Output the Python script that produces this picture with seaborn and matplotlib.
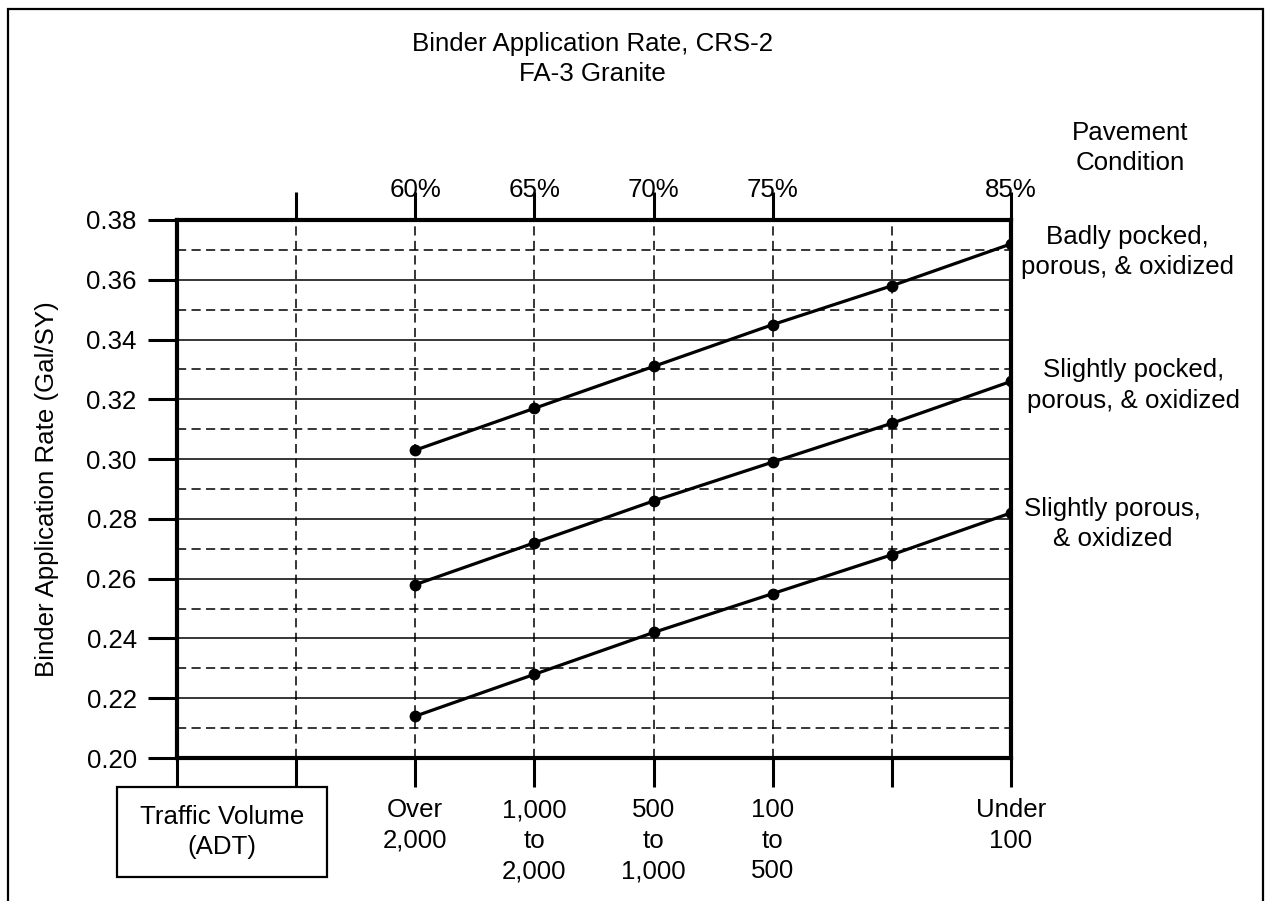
import numpy as np
import pandas as pd
import matplotlib.pyplot as plt
from matplotlib.patches import Rectangle
from matplotlib.ticker import FormatStrFormatter
import seaborn as sns

# ---------------------------------------------------------
# chart values
# ---------------------------------------------------------
column_index = [2, 3, 4, 5, 6, 7]
badly_pocked = [0.303, 0.317, 0.331, 0.345, 0.358, 0.372]
slightly_pocked = [0.258, 0.272, 0.286, 0.299, 0.312, 0.326]
slightly_porous = [0.214, 0.228, 0.242, 0.255, 0.268, 0.282]

condition_names = ['Badly pocked,\nporous, & oxidized',
                   'Slightly pocked,\nporous, & oxidized',
                   'Slightly porous,\n& oxidized']

traffic_ticks = [0, 1, 2, 3, 4, 5, 6, 7]
traffic_labels = ['', '', 'Over\n2,000', '1,000\nto\n2,000', '500\nto\n1,000',
                  '100\nto\n500', '', 'Under\n100']
pavement_ticks = [1, 2, 3, 4, 5, 7]
pavement_labels = ['', '60%', '65%', '70%', '75%', '85%']

y_major = [0.20, 0.22, 0.24, 0.26, 0.28, 0.30, 0.32, 0.34, 0.36, 0.38]
y_minor = [0.21, 0.23, 0.25, 0.27, 0.29, 0.31, 0.33, 0.35, 0.37]

df = pd.concat([
    pd.DataFrame({'col': column_index, 'rate': vals, 'condition': name})
    for name, vals in zip(condition_names, [badly_pocked, slightly_pocked, slightly_porous])
])

# ---------------------------------------------------------
# style
# ---------------------------------------------------------
sns.set_style('white')
plt.rcParams['font.family'] = ['Liberation Sans', 'DejaVu Sans']
plt.rcParams['text.color'] = 'black'
plt.rcParams['axes.labelcolor'] = 'black'
plt.rcParams['xtick.color'] = 'black'
plt.rcParams['ytick.color'] = 'black'
FS = 18.6
LS = 1.34
W, H = 1270, 901

fig = plt.figure(figsize=(W / 100, H / 100), dpi=100)
ax = fig.add_axes([177 / W, (H - 758) / H, (1011 - 177) / W, (758 - 220) / H])

sns.lineplot(data=df, x='col', y='rate', hue='condition',
             palette={n: 'black' for n in condition_names},
             marker='o', markersize=8.5, markeredgewidth=0, linewidth=2.3,
             legend=False, ax=ax, zorder=5)

ax.set_xlim(0, 7)
ax.set_ylim(0.20, 0.38)

# grid: solid at major y, dashed at minor y, dashed verticals
ax.set_yticks(y_major)
ax.set_yticks(y_minor, minor=True)
ax.yaxis.set_major_formatter(FormatStrFormatter('%.2f'))
ax.grid(which='major', axis='y', color='black', linewidth=1.1, linestyle='-')
ax.grid(which='minor', axis='y', color='black', linewidth=1.1, linestyle=(0, (6, 3.5)))
ax.set_xticks(traffic_ticks, labels=traffic_labels)
ax.grid(which='major', axis='x', color='black', linewidth=1.1, linestyle=(0, (6, 3.5)))
ax.set_axisbelow(True)

for sp in ax.spines.values():
    sp.set_visible(True)
    sp.set_linewidth(3)
    sp.set_color('black')

ax.tick_params(axis='y', which='major', length=21, width=2.2, pad=8,
               labelsize=FS, direction='out', left=True)
ax.tick_params(axis='y', which='minor', length=0)
ax.tick_params(axis='x', which='major', length=21, width=2.2, pad=8,
               labelsize=FS, direction='out', bottom=True)
for lbl in ax.get_xticklabels():
    lbl.set_linespacing(LS)

ax.set_xlabel('')
ax.set_ylabel('Binder Application Rate (Gal/SY)', fontsize=FS)
ax.yaxis.set_label_coords(-0.142, 0.5)

# top axis: pavement condition percentages
top = ax.secondary_xaxis('top')
top.set_xticks(pavement_ticks, labels=pavement_labels)
top.tick_params(length=20, width=2.2, pad=-7, labelsize=FS, direction='out')
top.spines['top'].set_visible(False)

# labels for each line at its right end
label_offsets = [(84, -6), (88, -3), (73, -8)]
for name, vals, (dx, dy) in zip(condition_names,
                                [badly_pocked, slightly_pocked, slightly_porous],
                                label_offsets):
    ax.annotate(name, xy=(column_index[-1], vals[-1]), xytext=(dx, dy),
                textcoords='offset points', ha='center', va='center',
                fontsize=FS, linespacing=LS, annotation_clip=False)

# title and side captions
fig.text(592 / W, 1 - 59 / H, 'Binder Application Rate, CRS-2\nFA-3 Granite',
         ha='center', va='center', fontsize=FS, linespacing=LS)
fig.text(1130 / W, 1 - 148 / H, 'Pavement\nCondition',
         ha='center', va='center', fontsize=FS, linespacing=LS)

# traffic volume box
fig.patches.append(Rectangle((117 / W, 1 - 877 / H), (327 - 117) / W, (877 - 787) / H,
                             transform=fig.transFigure, fill=False,
                             edgecolor='black', linewidth=1.6))
fig.text(222 / W, 1 - 832 / H, 'Traffic Volume\n(ADT)',
         ha='center', va='center', fontsize=FS, linespacing=LS)

# outer frame (runs off the bottom edge)
fig.patches.append(Rectangle((8 / W, -0.05), (1263 - 8) / W, 1.05 - 9 / H,
                             transform=fig.transFigure, fill=False,
                             edgecolor='black', linewidth=1.6, clip_on=False))

fig.savefig('out.png', dpi=100)
